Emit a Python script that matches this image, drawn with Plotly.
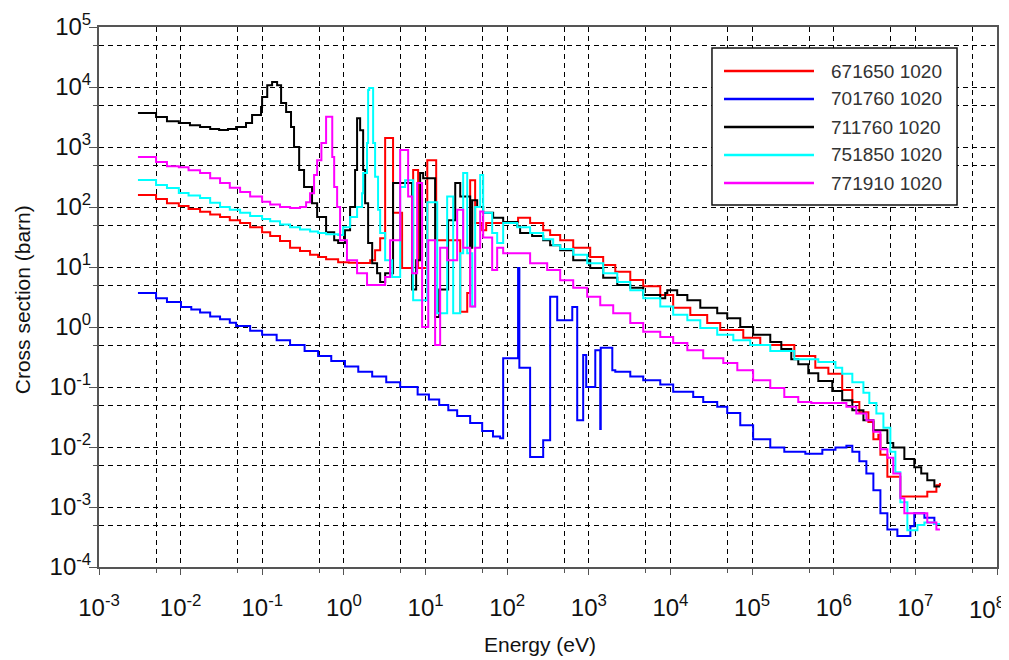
import plotly.graph_objects as go

# ---------------- data ----------------
series_names = ["671650 1020", "701760 1020", "711760 1020", "751850 1020", "771910 1020"]
series_colors = ["#FF0000", "#0000FF", "#000000", "#00FFFF", "#FF00FF"]

# 671650 1020 (red)
e_red = [0.003, 0.005, 0.0068, 0.0095, 0.0125, 0.0173, 0.023, 0.0304, 0.04, 0.0535, 0.071,
         0.0995, 0.125, 0.165, 0.219, 0.29, 0.385, 0.483, 0.605, 0.85, 1.15,
         1.45, 2.1, 2.41, 2.78, 3.2, 4.0, 5.16, 7.05, 8.11, 10.5, 13.5, 26.6, 32.4, 35.2,
         40.5, 49.4, 55.3, 100, 136, 191, 276, 336, 446, 644, 1040, 1500, 2110, 3220, 4640,
         7500, 10800, 17500, 28200, 40700, 78000, 1.26e5, 3.29e5, 5.95e5, 8.6e5, 1.27e6,
         1.69e6, 2.06e6, 2.66e6, 3.06e6, 3.52e6, 3.73e6, 4.54e6, 6.55e6, 1.4e7, 1.81e7, 2e7]
s_red = [158, 136, 116, 104, 93, 83, 75, 68, 60, 54, 46,
         38, 33, 27, 21, 18.5, 16, 14.7, 13.5, 12, 11.8,
         11.7, 13, 19, 30, 1410, 80, 9.6, 415, 9.6, 600, 28, 1.8, 3.7, 280,
         54, 41, 54, 56, 66, 54, 41, 34, 28, 21, 14.7, 10.8, 8.3, 6.1, 4.8,
         3.4, 2.1, 1.58, 1.17, 0.89, 0.66, 0.5, 0.33, 0.21, 0.166, 0.089,
         0.056, 0.038, 0.026, 0.0135, 0.016, 0.0074, 0.0032, 0.0015, 0.0018, 0.0023, 0.0025]

# 701760 1020 (blue)
e_blue = [0.003, 0.005, 0.0068, 0.0101, 0.0135, 0.0173, 0.023, 0.0304, 0.04, 0.0478, 0.071,
          0.0995, 0.15, 0.219, 0.33, 0.483, 0.7, 1.03, 1.5, 2.22, 3.3, 4.89, 8.0, 11, 14.7,
          19, 24.4, 35.2, 49.4, 67, 82, 89.3, 136, 141, 191, 276, 336,
          410, 627, 721, 853, 929, 1200, 1380, 1400, 1940, 2110, 3220, 4640, 7500, 10800,
          19000, 25200, 37400, 49600, 71600, 1.03e5, 1.67e5, 2.48e5, 4.49e5, 7.25e5, 1.05e6,
          1.43e6, 1.69e6, 2.06e6, 2.51e6, 3.06e6, 3.73e6, 4.54e6, 6.02e6, 8.69e6, 9.7e6,
          1.29e7, 1.71e7, 2e7]
s_blue = [3.7, 3.0, 2.6, 2.15, 1.95, 1.75, 1.5, 1.35, 1.18, 1.04, 0.87,
          0.74, 0.6, 0.5, 0.4, 0.33, 0.27, 0.22, 0.18, 0.15, 0.12, 0.1, 0.075, 0.062, 0.05,
          0.041, 0.033, 0.025, 0.0185, 0.015, 0.014, 0.3, 9.6, 0.21, 0.0068, 0.013, 3.2,
          1.3, 2.15, 0.028, 0.34, 0.1, 0.41, 0.02, 0.45, 0.19, 0.18, 0.15, 0.13, 0.11, 0.083,
          0.068, 0.056, 0.047, 0.037, 0.023, 0.0135, 0.0098, 0.0083, 0.0077, 0.009, 0.0098,
          0.0105, 0.0083, 0.0058, 0.0036, 0.0019, 0.00079, 0.00042, 0.00033, 0.00048, 0.00079,
          0.00066, 0.00052, 0.00052]

# 711760 1020 (black)
e_black = [0.003, 0.005, 0.0068, 0.0095, 0.013, 0.0173, 0.023, 0.0296, 0.038, 0.0478, 0.0632,
           0.075, 0.0966, 0.0995,
           0.115, 0.132, 0.152, 0.17, 0.196, 0.225, 0.245, 0.283, 0.325, 0.407, 0.47, 0.605,
           0.76, 0.85, 1.03, 1.19, 1.37, 1.45, 1.58, 1.72, 1.82, 1.98, 2.22, 2.55, 2.78, 3.2,
           4.0, 6.85, 7.67, 8.59, 9.35, 13.1, 14.7, 18.9, 23.1, 26.6, 35.2, 37.3, 42.9, 50.8,
           67.3, 89.3, 133, 144, 202, 276, 336, 446, 644, 1040, 1500, 2230, 3220, 4640, 7500,
           8630, 9140, 12100, 16100, 23200, 37400, 49600, 71600, 1.03e5, 1.67e5, 2.28e5,
           3.02e5, 3.68e5, 4.88e5, 6.47e5, 9.6e5, 1.27e6, 1.69e6, 2.31e6, 3.06e6, 4.54e6,
           5.36e6, 7.33e6, 9.7e6, 1.18e7, 1.4e7, 1.71e7, 2e7]
s_black = [3690, 3160, 2690, 2500, 2300, 2150, 2000, 1920, 2000, 2150, 2500,
           3400, 4640, 6800,
           10700, 12100, 10700, 5400, 3830, 2150, 1000, 415, 215, 115, 68, 38,
           28, 25, 41, 100, 413, 3000, 1900, 415, 115, 25, 11.6, 7.9, 5.6, 7.9,
           250, 4.2, 13, 370, 300, 1.47, 4.2, 60, 250, 150, 21, 130, 100, 80,
           66, 56, 48, 37, 33, 28, 23, 19, 13, 9.6, 6.6, 5.0, 4.5, 3.4, 3.0,
           3.7, 4.1, 3.4, 2.8, 2.1, 1.7, 1.4, 1.0, 0.74, 0.56, 0.43,
           0.29, 0.24, 0.17, 0.126, 0.086, 0.06, 0.041, 0.028, 0.019, 0.0117,
           0.0098, 0.0063, 0.0046, 0.0036, 0.0028, 0.0022, 0.0022]

# 751850 1020 (cyan)
e_cyan = [0.003, 0.005, 0.0068, 0.0095, 0.0125, 0.0173, 0.023, 0.0304, 0.04, 0.0535, 0.071,
          0.0995, 0.125, 0.165, 0.219, 0.29, 0.385, 0.483, 0.605, 0.85,
          0.978, 1.19, 1.45, 1.67, 1.72, 1.92, 1.98, 2.04, 2.28, 2.41, 2.62, 2.78, 3.2, 3.9,
          4.89, 5.62, 7.05, 10.5, 13.9, 18.4, 21.8, 26.6, 28.9, 32.4, 37.3, 40.5, 46.7, 50.8,
          65.5, 75.4, 89.3, 133, 191, 276, 366, 446, 644, 955, 1500, 2230, 3220, 4640, 7500,
          10800, 16100, 23200, 37400, 58900, 95000, 1.67e5, 3.29e5, 6.47e5, 1.05e6, 1.27e6,
          1.69e6, 2.31e6, 2.73e6, 3.33e6, 4.06e6, 4.94e6, 5.69e6, 6.55e6, 7.98e6, 1.06e7,
          1.29e7, 1.71e7, 2e7]
s_cyan = [282, 232, 208, 171, 155, 141, 118, 100, 90, 80, 71,
          63, 58, 51, 46, 42, 39, 37, 35, 34,
          46, 68, 100, 170, 370, 1170, 8900, 9600, 1170, 320, 90, 37, 13, 6.8,
          215, 280, 2.8, 120, 1.7, 150, 1.7, 17, 370, 17, 2.2, 100, 340, 80,
          37, 25, 54, 46, 37, 29, 23, 20, 16, 11.6, 7.9, 5.6, 4.1, 3.0, 2.2,
          1.6, 1.3, 0.96, 0.74, 0.6, 0.5, 0.4, 0.29, 0.26, 0.21, 0.166,
          0.12, 0.08, 0.054, 0.036, 0.021, 0.0083, 0.0038, 0.0012, 0.00041, 0.0005,
          0.00055, 0.00052, 0.00052]

# 771910 1020 (magenta)
e_mag = [0.003, 0.005, 0.0068, 0.0095, 0.0125, 0.0173, 0.023, 0.0304, 0.04, 0.0535, 0.071,
         0.0995, 0.125, 0.165, 0.219, 0.29,
         0.344, 0.385, 0.431, 0.47, 0.53, 0.605, 0.72, 0.76, 0.826, 0.898, 1.09, 1.45, 1.92,
         3.2, 3.68, 4.89, 6.12, 6.85, 7.89, 9.08, 10.8, 13.1, 15.1, 18.4, 24.4, 28.9, 35.2,
         40.5, 46.7, 50.8, 65.5, 75.4, 89.3, 133, 191, 309, 446, 644, 955, 1380, 1990, 3220,
         4640, 7500, 10800, 16100, 25200, 44400, 65900, 1.03e5, 1.67e5, 2.48e5, 3.68e5,
         5.31e5, 1.43e6, 1.89e6, 2.51e6, 3.06e6, 3.73e6, 4.54e6, 5.36e6, 6.55e6, 7.33e6,
         1.4e7, 1.81e7, 2e7]
s_mag = [680, 560, 480, 460, 410, 370, 300, 250, 210, 178, 150,
         122, 110, 100, 96, 100,
         120, 170, 340, 600, 1170, 3200, 680, 215, 100, 28, 13, 7.9, 5.0,
         6.8, 28, 890, 150, 7.9, 250, 1.0, 28, 0.5, 21, 13, 90, 21, 2.2,
         21, 84, 31, 8.9, 21, 17, 17, 11.6, 8.9, 6.0, 4.5, 3.2, 2.3, 1.7, 1.17,
         0.83, 0.68, 0.54, 0.41, 0.3, 0.25, 0.19, 0.13, 0.096, 0.068, 0.056,
         0.054, 0.047, 0.036, 0.028, 0.018, 0.0092, 0.0066, 0.0036, 0.0014, 0.00079,
         0.00055, 0.00042, 0.00042]

series_e = [e_red, e_blue, e_black, e_cyan, e_mag]
series_s = [s_red, s_blue, s_black, s_cyan, s_mag]

# axis ticks
x_major = [1e-3, 1e-2, 1e-1, 1e0, 1e1, 1e2, 1e3, 1e4, 1e5, 1e6, 1e7, 1e8]
x_labels = ["10<sup>-3</sup>", "10<sup>-2</sup>", "10<sup>-1</sup>", "10<sup>0</sup>", "10<sup>1</sup>",
            "10<sup>2</sup>", "10<sup>3</sup>", "10<sup>4</sup>", "10<sup>5</sup>", "10<sup>6</sup>",
            "10<sup>7</sup>", "10<sup>8</sup>"]
x_minor = [5e-3, 5e-2, 5e-1, 5e0, 5e1, 5e2, 5e3, 5e4, 5e5, 5e6, 5e7]
y_major = [1e-4, 1e-3, 1e-2, 1e-1, 1e0, 1e1, 1e2, 1e3, 1e4, 1e5]
y_labels = ["10<sup>-4</sup>", "10<sup>-3</sup>", "10<sup>-2</sup>", "10<sup>-1</sup>", "10<sup>0</sup>",
            "10<sup>1</sup>", "10<sup>2</sup>", "10<sup>3</sup>", "10<sup>4</sup>", "10<sup>5</sup>"]
y_minor = [5e-4, 5e-3, 5e-2, 5e-1, 5e0, 5e1, 5e2, 5e3, 5e4]
x_title = "Energy (eV)"
y_title = "Cross section (barn)"

# ---------------- figure ----------------
fig = go.Figure()
for name, col, ex, sy in zip(series_names, series_colors, series_e, series_s):
    fig.add_trace(go.Scatter(x=ex, y=sy, mode="lines", name=name, line_shape="hv",
                             line=dict(color=col, width=2), showlegend=False))

FONT = "Liberation Sans, Arial, sans-serif"
GRID = "#000000"
DASH = "5px,4px"
AX = "#555555"
TXT = "#111111"

common = dict(type="log", tickmode="array", showline=True, linecolor=AX, linewidth=2, mirror=True,
              ticks="outside", tickcolor=AX, tickwidth=1,
              showgrid=True, gridcolor=GRID, gridwidth=1, griddash=DASH,
              tickfont=dict(family=FONT, size=24, color=TXT), zeroline=False, automargin=False,
              ticklabeloverflow="allow")

# the last x label sits at the right page edge; it is drawn as an annotation nudged left
x_axis_text = x_labels[:-1] + [""]
fig.update_xaxes(range=[-3, 8], tickvals=x_major, ticktext=x_axis_text, ticklen=6, ticklabelstandoff=12,
                 minor=dict(tickvals=x_minor, ticks="outside", ticklen=4, tickcolor=AX,
                            showgrid=True, gridcolor=GRID, gridwidth=1, griddash=DASH),
                 **common)
fig.update_yaxes(range=[-4, 5], tickvals=y_major, ticktext=y_labels, ticklen=8, ticklabelstandoff=-7,
                 minor=dict(tickvals=y_minor, ticks="outside", ticklen=4, tickcolor=AX,
                            showgrid=True, gridcolor=GRID, gridwidth=1, griddash=DASH),
                 **common)

# custom legend box (paper coordinates)
shapes = [dict(type="rect", xref="paper", yref="paper", x0=0.6826, x1=0.9555, y0=0.6704, y1=0.9611,
               fillcolor="white", line=dict(color="#111111", width=1.5), layer="above")]
annotations = []
row_y = [0.9185, 0.8667, 0.8148, 0.7630, 0.7111]
for name, col, ry in zip(series_names, series_colors, row_y):
    shapes.append(dict(type="line", xref="paper", yref="paper", x0=0.696, x1=0.7962, y0=ry, y1=ry,
                       line=dict(color=col, width=2.5), layer="above"))
    annotations.append(dict(xref="paper", yref="paper", x=0.8129, y=ry, text=name, showarrow=False,
                            xanchor="left", yanchor="middle",
                            font=dict(family=FONT, size=19, color="#333333")))

# last x tick label
annotations.append(dict(xref="paper", yref="paper", x=1.0, y=-0.0444, text=x_labels[-1], showarrow=False,
                        xanchor="right", yanchor="top", xshift=10,
                        font=dict(family=FONT, size=24, color=TXT)))

# axis titles
annotations.append(dict(xref="paper", yref="paper", x=0.491, y=-0.1444, text=x_title, showarrow=False,
                        xanchor="center", yanchor="middle", font=dict(family=FONT, size=21, color=TXT)))
annotations.append(dict(xref="paper", yref="paper", x=-0.0857, y=0.494, text=y_title, showarrow=False,
                        textangle=-90, xanchor="center", yanchor="middle",
                        font=dict(family=FONT, size=21, color=TXT)))

# page body has an 8px margin, so the figure is sized/offset to put the plot area at 99..997 x 27..567
fig.update_layout(width=1009, height=652, margin=dict(l=91, r=20, t=19, b=93),
                  paper_bgcolor="white", plot_bgcolor="white",
                  shapes=shapes, annotations=annotations, showlegend=False)

fig.write_html("out.html")
